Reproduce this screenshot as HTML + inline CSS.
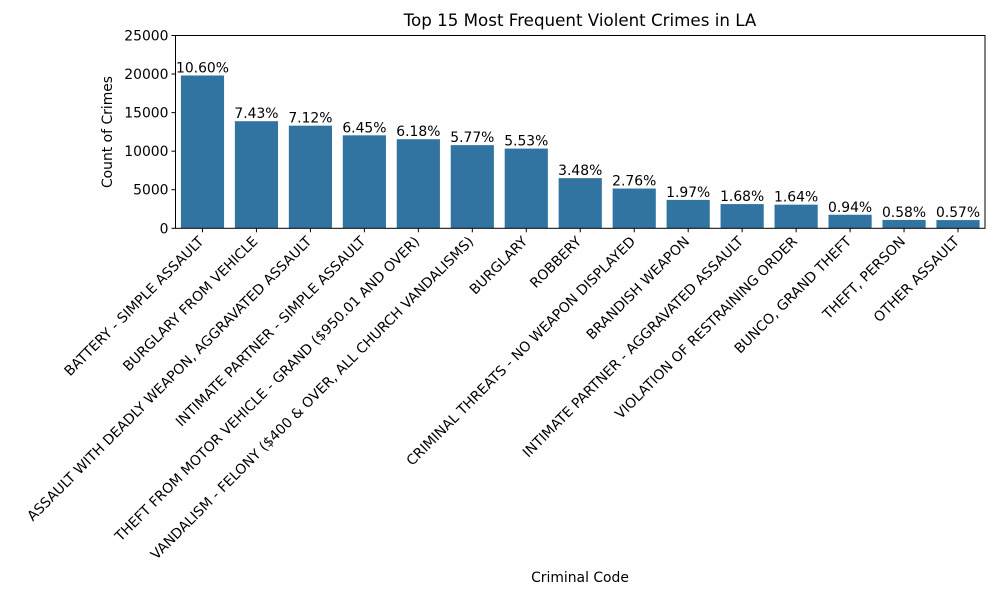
<!DOCTYPE html>
<html><head><meta charset="utf-8"><style>
body{margin:0;background:#fff;}
svg{font-family:"DejaVu Sans","Liberation Sans",sans-serif;}
</style></head><body>
<svg id="chart" width="1000" height="600" viewBox="0 0 1000 600">
<text x="580" y="26" text-anchor="middle" font-size="16.7">Top 15 Most Frequent Violent Crimes in LA</text>
<g id="bars"></g><g id="axes"></g>
<text x="580" y="582" text-anchor="middle" font-size="13.9">Criminal Code</text>
<text transform="translate(112,132) rotate(-90)" text-anchor="middle" font-size="13.9">Count of Crimes</text>
</svg>
<script>
const categories = ["BATTERY - SIMPLE ASSAULT","BURGLARY FROM VEHICLE","ASSAULT WITH DEADLY WEAPON, AGGRAVATED ASSAULT","INTIMATE PARTNER - SIMPLE ASSAULT","THEFT FROM MOTOR VEHICLE - GRAND ($950.01 AND OVER)","VANDALISM - FELONY ($400 & OVER, ALL CHURCH VANDALISMS)","BURGLARY","ROBBERY","CRIMINAL THREATS - NO WEAPON DISPLAYED","BRANDISH WEAPON","INTIMATE PARTNER - AGGRAVATED ASSAULT","VIOLATION OF RESTRAINING ORDER","BUNCO, GRAND THEFT","THEFT, PERSON","OTHER ASSAULT"];
const counts = [19815,13888,13309,12057,11552,10786,10337,6505,5159,3682,3140,3066,1757,1084,1065];
const pctLabels = ["10.60%","7.43%","7.12%","6.45%","6.18%","5.77%","5.53%","3.48%","2.76%","1.97%","1.68%","1.64%","0.94%","0.58%","0.57%"];
const yTicks = [0,5000,10000,15000,20000,25000];
const NS="http://www.w3.org/2000/svg";
const L=175.5,R=985,T=35.5,B=228.3,yMax=25000;
const y=v=>B-(v/yMax)*(B-T);
const step=(R-L)/categories.length;
const xc=i=>L+step*(i+0.5);
const bars=document.getElementById('bars'),axes=document.getElementById('axes');
function mk(tag,attrs,parent){const e=document.createElementNS(NS,tag);for(const k in attrs)e.setAttribute(k,attrs[k]);parent.appendChild(e);return e;}
counts.forEach((v,i)=>{
  const r=mk('rect',{x:xc(i)-step*0.4,y:y(v),width:step*0.8,height:B-y(v),fill:'#3274a1'},bars);
  
  
  const t=mk('text',{x:xc(i),y:y(v)-3,'text-anchor':'middle','font-size':'13.9'},bars);
  t.textContent=pctLabels[i];
  
  
  mk('line',{x1:xc(i),x2:xc(i),y1:B,y2:B+4,stroke:'#000'},axes);
  const lx=xc(i)+2,ly=B+14;
  const xl=mk('text',{x:lx,y:ly,'text-anchor':'end','font-size':'13.9',transform:`rotate(-45 ${lx} ${ly})`},axes);
  xl.textContent=categories[i];
  
  
});
yTicks.forEach(v=>{
  mk('line',{x1:L-4,x2:L,y1:y(v),y2:y(v),stroke:'#000'},axes);
  const t=mk('text',{x:L-7,y:y(v)+5,'text-anchor':'end','font-size':'13.9'},axes);
  t.textContent=v;
  
  
});
const fr=mk('rect',{x:L,y:T,width:R-L,height:B-T,fill:'none',stroke:'#000','stroke-width':1},axes);


</script>
</body></html>
